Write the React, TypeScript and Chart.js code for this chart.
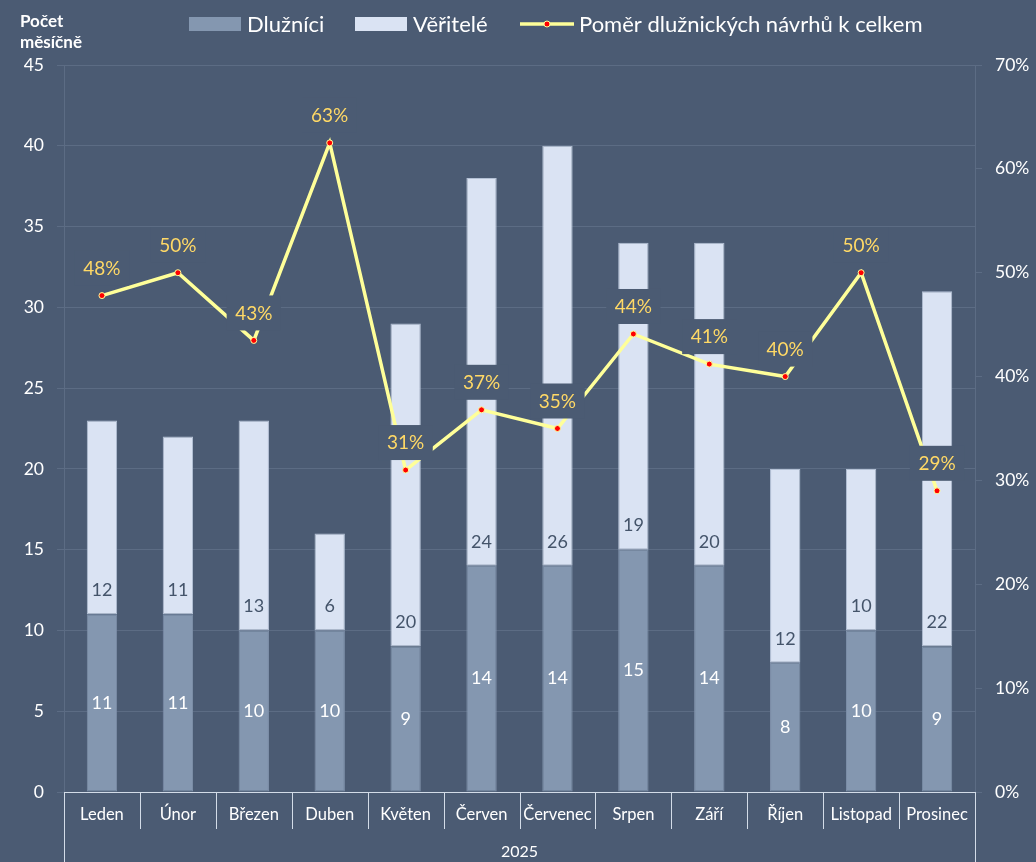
import React, { useEffect, useRef } from "react";
import { Chart, registerables } from "chart.js";

Chart.register(...registerables);

const months = ["Leden", "Únor", "Březen", "Duben", "Květen", "Červen", "Červenec", "Srpen", "Září", "Říjen", "Listopad", "Prosinec"];
const debtors = [11, 11, 10, 10, 9, 14, 14, 15, 14, 8, 10, 9];
const creditors = [12, 11, 13, 6, 20, 24, 26, 19, 20, 12, 10, 22];
const ratioPct = [47.8, 50.0, 43.48, 62.5, 31.0, 36.8, 35.0, 44.1, 41.2, 40.0, 50.0, 29.0];
const seriesNames = ["Dlužníci", "Věřitelé", "Poměr dlužnických návrhů k celkem"];
const yearLabel = "2025";
const leftTitle = ["Počet", "měsíčně"];

const BG = "#4B5B73";
const GRID = "#5C6C84";
const AXIS = "#D3DCE8";
const C_DEBT = "#8497B0";
const C_CRED = "#DAE3F3";
const C_LINE = "#FFFF99";
const C_POINT = "#FF0000";
const C_PCT = "#FFD966";
const C_CRED_LABEL = "#44546A";
const FONT = "Lato, 'Noto Sans', sans-serif";

const W = 1036;
const H = 862;
const LEGEND_STARTS = [189, 355, 520];

const overlay = {
  id: "overlay",
  afterDatasetsDraw(chart: any) {
    const ctx = chart.ctx as CanvasRenderingContext2D;
    ctx.save();
    const m0 = chart.getDatasetMeta(0);
    const m1 = chart.getDatasetMeta(1);
    ctx.font = `18px ${FONT}`;
    ctx.textAlign = "center";
    ctx.textBaseline = "middle";
    m0.data.forEach((el: any, i: number) => {
      const p = el.getProps(["x", "y", "base"], true);
      ctx.fillStyle = "#FFFFFF";
      ctx.fillText(String(debtors[i]), p.x, (p.y + p.base) / 2);
    });
    m1.data.forEach((el: any, i: number) => {
      const p = el.getProps(["x", "y", "base"], true);
      ctx.fillStyle = C_CRED_LABEL;
      ctx.fillText(String(creditors[i]), p.x, p.base - 24);
    });
    const m2 = chart.getDatasetMeta(2);
    ctx.font = `19px ${FONT}`;
    m2.data.forEach((el: any, i: number) => {
      const p = el.getProps(["x", "y"], true);
      const txt = Math.round(ratioPct[i]) + "%";
      const tw = ctx.measureText(txt).width;
      const bw = tw + 17;
      ctx.fillStyle = BG;
      ctx.fillRect(p.x - bw / 2, p.y - 45, bw, 35);
      ctx.fillStyle = C_PCT;
      ctx.fillText(txt, p.x, p.y - 27);
    });
    ctx.restore();
  },
  afterDraw(chart: any) {
    const ctx = chart.ctx as CanvasRenderingContext2D;
    const area = chart.chartArea;
    const xs = chart.scales.x;
    ctx.save();
    ctx.strokeStyle = AXIS;
    ctx.lineWidth = 1;
    for (let i = 0; i <= months.length; i++) {
      const px = Math.round(xs.getPixelForValue(i - 0.5)) + 0.5;
      const outer = i === 0 || i === months.length;
      ctx.beginPath();
      ctx.moveTo(px, area.bottom);
      ctx.lineTo(px, outer ? chart.height : area.bottom + 37);
      ctx.stroke();
    }
    ctx.fillStyle = "#FFFFFF";
    ctx.font = `bold 17px ${FONT}`;
    ctx.textAlign = "left";
    ctx.textBaseline = "alphabetic";
    ctx.fillText(leftTitle[0], 20, 27);
    ctx.fillText(leftTitle[1], 20, 48);
    ctx.font = `22px ${FONT}`;
    ctx.textBaseline = "middle";
    const cy = 24;
    const swatches = [C_DEBT, C_CRED];
    for (let k = 0; k < 3; k++) {
      let x = LEGEND_STARTS[k];
      if (k < 2) {
        ctx.fillStyle = swatches[k];
        ctx.fillRect(x, cy - 7, 52, 14);
        x += 58;
      } else {
        ctx.strokeStyle = C_LINE;
        ctx.lineWidth = 3.5;
        ctx.beginPath();
        ctx.moveTo(x, cy);
        ctx.lineTo(x + 54, cy);
        ctx.stroke();
        ctx.beginPath();
        ctx.arc(x + 27, cy, 3, 0, Math.PI * 2);
        ctx.fillStyle = C_POINT;
        ctx.fill();
        ctx.lineWidth = 1;
        ctx.strokeStyle = C_LINE;
        ctx.stroke();
        x += 59;
      }
      ctx.fillStyle = "#FFFFFF";
      ctx.fillText(seriesNames[k], x, cy + 1);
    }
    ctx.restore();
  },
};

export default function App() {
  const ref = useRef<HTMLCanvasElement | null>(null);
  useEffect(() => {
    if (!ref.current) return;
    Chart.defaults.font.family = FONT;
    const chart = new Chart(ref.current, {
      type: "bar",
      data: {
        labels: months,
        datasets: [
          {
            type: "bar",
            label: seriesNames[0],
            data: debtors,
            backgroundColor: C_DEBT,
            borderColor: "#7D8FA8",
            borderWidth: 1,
            borderSkipped: false,
            stack: "s",
            barPercentage: 0.4,
            categoryPercentage: 1.0,
            order: 1,
            yAxisID: "y",
          },
          {
            type: "bar",
            label: seriesNames[1],
            data: creditors,
            backgroundColor: C_CRED,
            borderColor: "#B3C0D4",
            borderWidth: 1,
            borderSkipped: false,
            stack: "s",
            barPercentage: 0.4,
            categoryPercentage: 1.0,
            order: 1,
            yAxisID: "y",
          },
          {
            type: "line",
            label: seriesNames[2],
            data: ratioPct,
            borderColor: C_LINE,
            borderWidth: 3.5,
            pointRadius: 3,
            pointBackgroundColor: C_POINT,
            pointBorderColor: C_LINE,
            pointBorderWidth: 1,
            tension: 0,
            order: 0,
            yAxisID: "y1",
            clip: false,
          } as any,
        ],
      },
      options: {
        responsive: false,
        animation: false,
        layout: { padding: { top: 65, left: 0, right: 0, bottom: 0 } },
        plugins: {
          legend: { display: false },
          tooltip: { enabled: false },
        },
        scales: {
          x: {
            stacked: true,
            grid: { display: false, drawTicks: false },
            border: { display: true, color: AXIS, width: 1 },
            ticks: {
              color: "#FFFFFF",
              font: { size: 16.5 },
              padding: 13,
              maxRotation: 0,
              autoSkip: false,
            },
            title: {
              display: true,
              text: yearLabel,
              color: "#FFFFFF",
              font: { size: 16, lineHeight: 1.25 },
              padding: 0,
            },
            afterFit: (s: any) => {
              s.height = 70;
            },
          },
          y: {
            stacked: true,
            position: "left",
            min: 0,
            max: 45,
            ticks: {
              stepSize: 5,
              color: "#FFFFFF",
              font: { size: 17.5 },
              padding: 13,
            },
            grid: { color: GRID, tickLength: 7, drawTicks: true },
            border: { display: true, color: GRID },
            afterFit: (s: any) => {
              s.width = 64;
            },
          },
          y1: {
            position: "right",
            min: 0,
            max: 70,
            ticks: {
              stepSize: 10,
              color: "#FFFFFF",
              font: { size: 17.5 },
              padding: 13,
              callback: (v: any) => v + "%",
            },
            grid: { drawOnChartArea: false, color: GRID, tickLength: 7 },
            border: { display: true, color: GRID },
            afterFit: (s: any) => {
              s.width = 61;
            },
          },
        },
      },
      plugins: [overlay],
    });
    return () => chart.destroy();
  }, []);

  return (
    <div style={{ position: "fixed", left: 0, top: 0, width: W, height: H, background: BG, overflow: "hidden" }}>
      <canvas ref={ref} width={W} height={H} style={{ display: "block" }} />
    </div>
  );
}
